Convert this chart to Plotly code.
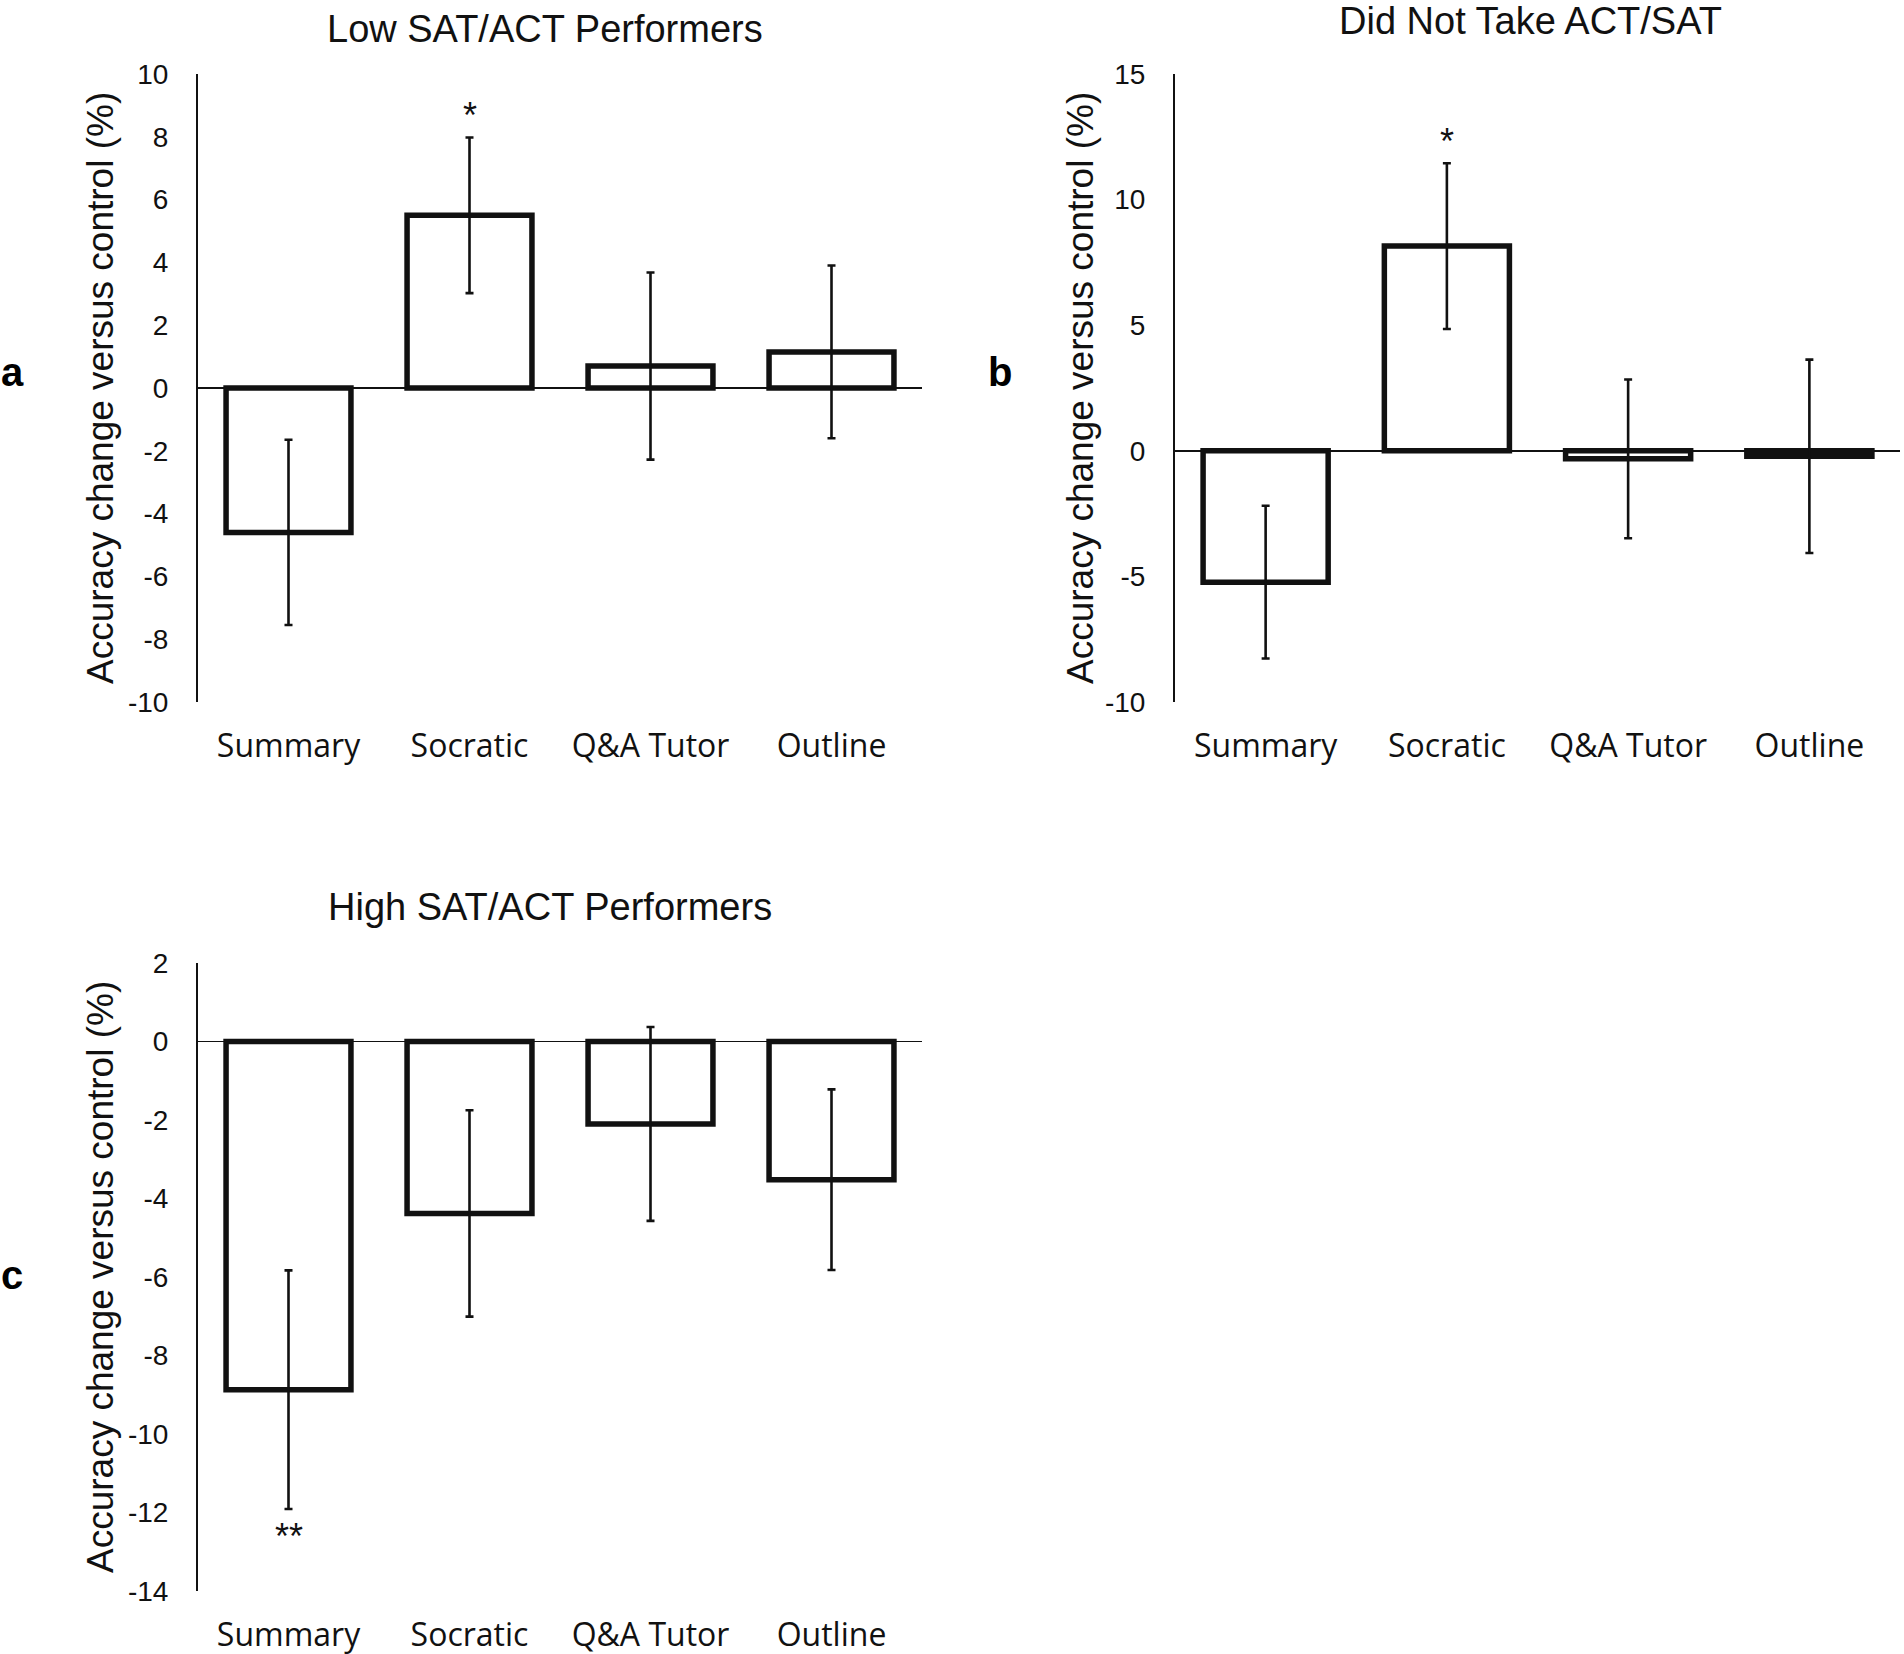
import plotly.graph_objects as go

# ---------------- data ----------------
categories = ["Summary", "Socratic", "Q&A Tutor", "Outline"]

low_values = [-4.6, 5.5, 0.7, 1.15]
low_errors = [2.95, 2.48, 2.98, 2.75]
low_sig = ["", "*", "", ""]
low_ticks = [-10, -8, -6, -4, -2, 0, 2, 4, 6, 8, 10]

none_values = [-5.23, 8.15, -0.32, -0.22]
none_errors = [3.04, 3.3, 3.16, 3.85]
none_sig = ["", "*", "", ""]
none_ticks = [-10, -5, 0, 5, 10, 15]

high_values = [-8.87, -4.38, -2.1, -3.52]
high_errors = [3.04, 2.63, 2.47, 2.3]
high_sig = ["**", "", "", ""]
high_ticks = [-14, -12, -10, -8, -6, -4, -2, 0, 2]

panel_titles = ["Low SAT/ACT Performers", "Did Not Take ACT/SAT", "High SAT/ACT Performers"]
panel_letters = ["a", "b", "c"]
y_title = "Accuracy change versus control (%)"

# ---------------- layout helpers ----------------
W, H = 1904, 1654


def px_x(p):
    return p / W


def px_y(p):
    return 1 - p / H


INK = "#111111"
TICK_FONT = dict(family="Liberation Sans, Arial, sans-serif", size=28, color=INK)
CAT_FONT = dict(family="Open Sans, sans-serif", size=32, color=INK)
TITLE_FONT = dict(family="Liberation Sans, Arial, sans-serif", size=38, color=INK)
YTITLE_FONT = dict(family="Liberation Sans, Arial, sans-serif", size=37, color=INK)
LETTER_FONT = dict(family="Liberation Sans, Arial, sans-serif", size=40, color="#000000")
STAR_FONT = dict(family="Liberation Sans, Arial, sans-serif", size=36, color=INK)


def tick_label(v):
    return "-" + str(abs(v)) if v < 0 else str(v)


panels = [
    dict(values=low_values, errors=low_errors, sig=low_sig, ticks=low_ticks,
         xdom=(198, 922), ydom=(74, 702),
         title_xy=(545, 29), letter_xy=(12, 372), ytitle_x=100),
    dict(values=none_values, errors=none_errors, sig=none_sig, ticks=none_ticks,
         xdom=(1175, 1900), ydom=(74, 702),
         title_xy=(1530, 21), letter_xy=(1000, 372), ytitle_x=1080),
    dict(values=high_values, errors=high_errors, sig=high_sig, ticks=high_ticks,
         xdom=(198, 922), ydom=(963, 1591),
         title_xy=(550, 907), letter_xy=(12, 1275), ytitle_x=100),
]

fig = go.Figure()
annotations = []

for i, p in enumerate(panels):
    n = "" if i == 0 else str(i + 1)
    xa, ya = "x" + n, "y" + n
    fig.add_trace(go.Bar(
        x=categories, y=p["values"], xaxis=xa, yaxis=ya,
        marker=dict(color="white", line=dict(color=INK, width=5.5)),
        error_y=dict(type="data", array=p["errors"], visible=True,
                     color=INK, thickness=2.6, width=4),
        showlegend=False, hoverinfo="skip",
    ))
    fig.layout["xaxis" + n] = dict(
        domain=[px_x(p["xdom"][0]), px_x(p["xdom"][1])], anchor=ya,
        showline=False, showgrid=False, zeroline=False, ticks="",
        tickfont=CAT_FONT, ticklabelstandoff=22, fixedrange=True, automargin=False,
    )
    fig.layout["yaxis" + n] = dict(
        domain=[px_y(p["ydom"][1]), px_y(p["ydom"][0])], anchor=xa,
        range=[min(p["ticks"]), max(p["ticks"])],
        tickmode="array", tickvals=p["ticks"],
        ticktext=[tick_label(t) for t in p["ticks"]],
        showline=True, linecolor=INK, linewidth=2,
        showgrid=False, zeroline=True, zerolinecolor=INK, zerolinewidth=1.6,
        ticks="", tickfont=TICK_FONT, ticklabelstandoff=22, fixedrange=True,
        automargin=False,
    )
    # significance markers
    for cat, v, e, s in zip(categories, p["values"], p["errors"], p["sig"]):
        if s:
            up = v >= 0
            annotations.append(dict(
                x=cat, y=v + e if up else v - e, xref=xa, yref=ya,
                text=s, showarrow=False, font=STAR_FONT,
                xanchor="center", yanchor="middle",
                yshift=22 if up else -28,
            ))
    # panel title
    annotations.append(dict(
        x=px_x(p["title_xy"][0]), y=px_y(p["title_xy"][1]), xref="paper", yref="paper",
        text=panel_titles[i], showarrow=False, font=TITLE_FONT,
        xanchor="center", yanchor="middle",
    ))
    # panel letter
    annotations.append(dict(
        x=px_x(p["letter_xy"][0]), y=px_y(p["letter_xy"][1]), xref="paper", yref="paper",
        text="<b>" + panel_letters[i] + "</b>", showarrow=False, font=LETTER_FONT,
        xanchor="center", yanchor="middle",
    ))
    # y axis title
    annotations.append(dict(
        x=px_x(p["ytitle_x"]), y=px_y((p["ydom"][0] + p["ydom"][1]) / 2),
        xref="paper", yref="paper", text=y_title, textangle=-90,
        showarrow=False, font=YTITLE_FONT, xanchor="center", yanchor="middle",
    ))

fig.update_layout(
    template="none",
    width=W, height=H,
    margin=dict(l=0, r=0, t=0, b=0, pad=0, autoexpand=False),
    paper_bgcolor="white", plot_bgcolor="white",
    bargap=0.31,
    annotations=annotations,
)

fig.write_html(
    "out.html",
    config={"displayModeBar": False, "staticPlot": True},
    post_script="document.body.style.margin='0px';document.body.style.overflow='hidden';",
)
